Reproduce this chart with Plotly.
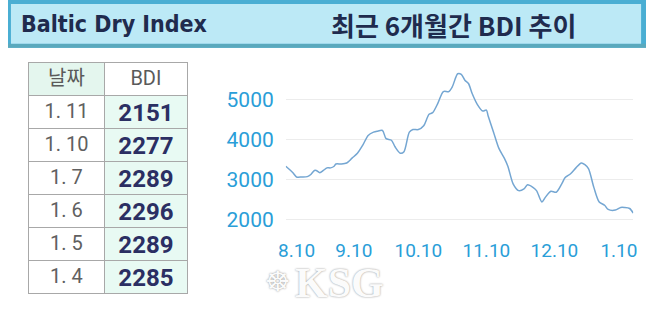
import plotly.graph_objects as go

W, H = 650, 310

# ---------------- data ----------------
table_dates = ["1. 11", "1. 10", "1. 7", "1. 6", "1. 5", "1. 4"]
table_bdi = [2151, 2277, 2289, 2296, 2289, 2285]

# days since start of the 6-month window and BDI values
days = [0, 4, 6, 9, 12, 14, 16, 17, 19, 21, 23, 25, 27, 28, 31, 34, 37, 40, 43, 46,
        49, 51, 54, 56, 59, 61, 64, 66, 69, 71, 74, 77, 80, 82, 85, 88, 91, 93, 96, 98,
        100, 102, 104, 107, 110, 112, 113, 116, 119, 122, 124, 127, 130, 133, 135, 138,
        140, 143, 145, 148, 151, 154, 156, 159, 162, 165, 167, 169, 172, 175, 178, 180,
        184, 187, 189, 192, 194]
bdi = [3325, 3163, 3057, 3057, 3065, 3120, 3220, 3220, 3163, 3220, 3285, 3285, 3325,
       3382, 3382, 3407, 3528, 3650, 3854, 4098, 4179, 4203, 4220, 4016, 3976, 3813,
       3650, 3691, 4179, 4244, 4244, 4341, 4626, 4667, 4911, 5195, 5195, 5317, 5642,
       5626, 5480, 5398, 5154, 4870, 4707, 4732, 4585, 4179, 3772, 3528, 3325, 2878,
       2715, 2756, 2862, 2797, 2715, 2431, 2553, 2699, 2675, 2878, 3041, 3138, 3285,
       3407, 3366, 3268, 2797, 2431, 2350, 2244, 2228, 2293, 2293, 2268, 2151]

x_tickvals = [6, 38, 74, 112, 150, 186]
x_ticktext = ["8.10", "9.10", "10.10", "11.10", "12.10", "1.10"]
y_tickvals = [2000, 3000, 4000, 5000]

title_left = "Baltic Dry Index"
title_right = "최근 6개월간 BDI 추이"


def px_x(p):
    return p / W


def px_y(p):
    return 1 - p / H


fig = go.Figure()

# ---------------- table ----------------
fig.add_trace(go.Table(
    domain=dict(x=[px_x(21), px_x(183)], y=[0, px_y(64)]),
    columnwidth=[77, 85],
    header=dict(
        values=["날짜", "BDI"],
        fill_color=["#e4f6ee", "#ffffff"],
        line_color="#a8a8a8",
        line_width=1,
        height=33,
        align="center",
        font=dict(family="Roboto, 'Noto Sans CJK KR'", size=20, color="#5a5a5a"),
    ),
    cells=dict(
        values=[table_dates, [str(v) for v in table_bdi]],
        fill_color=[["#ffffff"] * len(table_dates), ["#e8faf3"] * len(table_bdi)],
        line_color="#a8a8a8",
        line_width=1,
        height=33,
        align="center",
        font=dict(family=["Roboto", "Roboto"], size=[20, 24],
                  color=["#606060", "#2b2f63"], weight=["normal", "bold"]),
    ),
))

# ---------------- line chart ----------------
fig.add_trace(go.Scatter(
    x=days, y=bdi, mode="lines",
    line=dict(color="#74a6d2", width=1.5, shape="spline", smoothing=0.8),
    hoverinfo="skip", showlegend=False,
))

fig.update_xaxes(
    domain=[px_x(283), px_x(637)], range=[0, 194],
    tickvals=x_tickvals, ticktext=x_ticktext,
    showgrid=False, zeroline=False, showline=False, ticks="",
    tickfont=dict(family="Roboto", size=19, color="#2a9ed8"),
    ticklabelstandoff=14,
)
fig.update_yaxes(
    domain=[px_y(229.1), px_y(73.3)], range=[1900, 5700],
    tickvals=y_tickvals,
    showgrid=True, gridcolor="#ececec", gridwidth=1,
    zeroline=False, showline=False, ticks="",
    tickfont=dict(family="Roboto", size=21, color="#2a9ed8"),
    ticklabelstandoff=11,
)

# ---------------- decorations ----------------
shapes = [
    dict(type="rect", xref="paper", yref="paper", x0=0, x1=1, y0=px_y(49), y1=1,
         fillcolor="#4aaed3", line_width=0, layer="below"),
    dict(type="rect", xref="paper", yref="paper", x0=0, x1=1, y0=px_y(49), y1=px_y(45),
         fillcolor="#5aa9bd", line_width=0, layer="below"),
    dict(type="rect", xref="paper", yref="paper", x0=px_x(3), x1=px_x(645),
         y0=px_y(45), y1=px_y(4), fillcolor="#bce9f6", line_width=0, layer="below"),
]

annotations = [
    dict(text=title_left, xref="paper", yref="paper", x=px_x(11), y=px_y(25),
         xanchor="left", yanchor="middle", showarrow=False,
         font=dict(family="'DejaVu Sans Condensed', 'Liberation Sans Narrow'", size=23,
                   color="#1f2b4e", weight="bold")),
    dict(text=title_right, xref="paper", yref="paper", x=px_x(327), y=px_y(25),
         xanchor="left", yanchor="middle", showarrow=False,
         font=dict(family="'Noto Sans CJK KR'", size=26, color="#1f2b4e", weight="bold")),
    dict(text="KSG", xref="paper", yref="paper", x=px_x(338), y=px_y(290),
         xanchor="center", yanchor="middle", showarrow=False,
         font=dict(family="Liberation Serif", size=42, color="#fbfbfb", weight="bold",
                   shadow="0px 0px 2px #8a8a8a")),
    dict(text="☸", xref="paper", yref="paper", x=px_x(275), y=px_y(289),
         xanchor="center", yanchor="middle", showarrow=False,
         font=dict(family="DejaVu Sans", size=28, color="#fbfbfb",
                   shadow="0px 0px 2px #8a8a8a")),
]

fig.update_layout(
    width=W, height=H,
    margin=dict(l=0, r=0, t=0, b=0),
    paper_bgcolor="#ffffff", plot_bgcolor="rgba(0,0,0,0)",
    shapes=shapes, annotations=annotations,
    showlegend=False,
)

fig.write_html("out.html")
